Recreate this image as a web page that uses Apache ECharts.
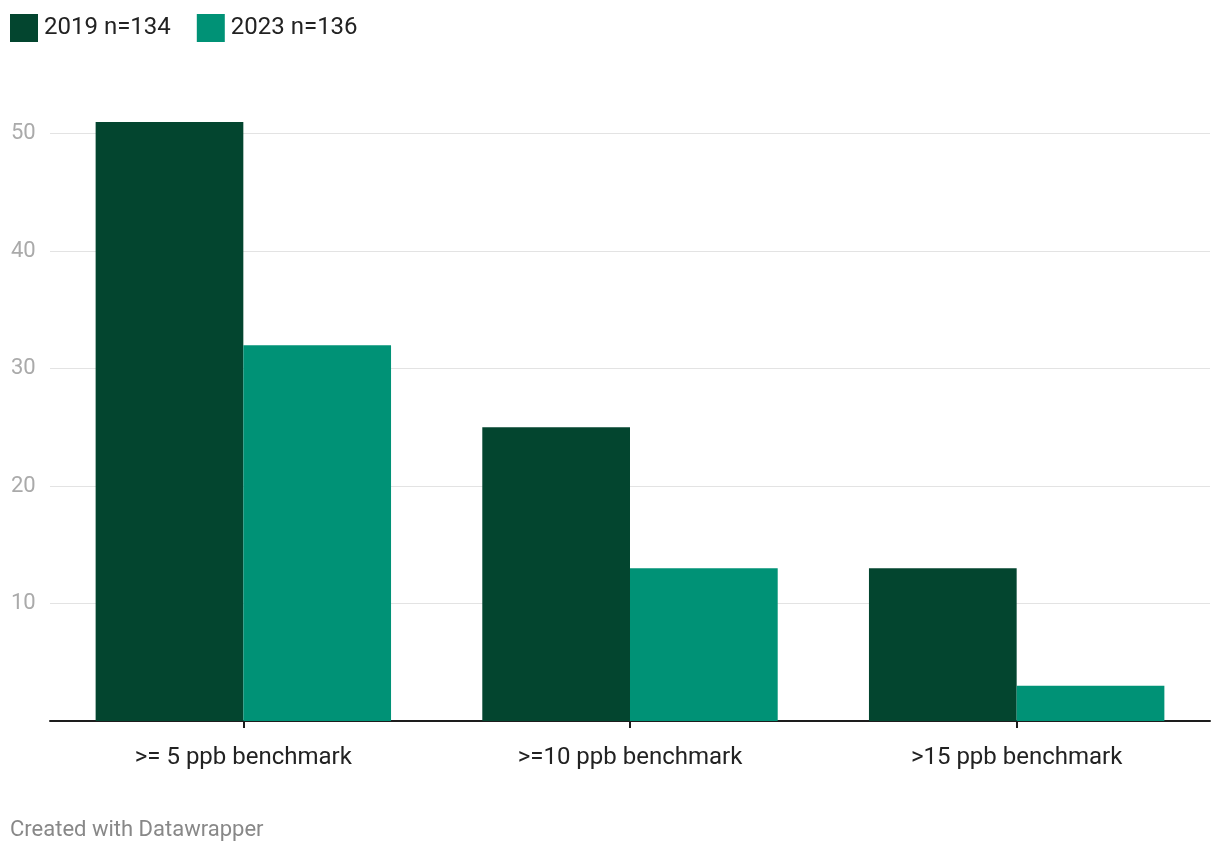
<!DOCTYPE html>
<html>
<head>
<meta charset="utf-8">
<script src="https://cdn.jsdelivr.net/npm/echarts@6/dist/echarts.min.js"></script>
<style>
  html, body { margin: 0; padding: 0; background: #fff; }
  #chart { width: 1220px; height: 854px; }
</style>
</head>
<body>
<div id="chart"></div>
<script>
var categories = [">= 5 ppb benchmark", ">=10 ppb benchmark", ">15 ppb benchmark"];
var seriesNames = ["2019 n=134", "2023 n=136"];
var values2019 = [51, 25, 13];
var values2023 = [32, 13, 3];

var myChart = echarts.init(document.getElementById("chart"));

var option = {
    animation: false,
    textStyle: { fontFamily: "Roboto" },
    title: {
        text: "Created with Datawrapper",
        left: 10,
        top: 819,
        padding: 0,
        textStyle: { color: "#888888", fontSize: 22, fontWeight: "normal", fontFamily: "Roboto" }
    },
    legend: {
        left: 10,
        top: 14,
        padding: 0,
        itemWidth: 28,
        itemHeight: 28,
        itemGap: 26,
        icon: "rect",
        textStyle: { color: "#222222", fontSize: 24, fontFamily: "Roboto", padding: [0, 0, 0, 1] },
        data: seriesNames
    },
    grid: {
        left: 50,
        right: 10,
        top: 75,
        bottom: 133,
        containLabel: false
    },
    xAxis: {
        type: "category",
        data: categories,
        axisLine: { lineStyle: { color: "#1d1d1d", width: 2 } },
        axisTick: { show: true, alignWithLabel: true, length: 7, lineStyle: { color: "#1d1d1d", width: 2 } },
        axisLabel: { color: "#222222", fontSize: 24, margin: 25, fontFamily: "Roboto" }
    },
    yAxis: {
        type: "value",
        min: 0,
        max: 55,
        interval: 10,
        axisLine: { show: false },
        axisTick: { show: false },
        axisLabel: {
            color: "#aaaaaa",
            fontSize: 22,
            align: "left",
            margin: 39,
            showMinLabel: false,
            showMaxLabel: false,
            fontFamily: "Roboto"
        },
        splitLine: {
            show: true,
            showMinLine: false,
            showMaxLine: false,
            lineStyle: { color: "#e3e3e3", width: 1 }
        }
    },
    series: [
        {
            name: seriesNames[0],
            type: "bar",
            data: values2019,
            barGap: "0%",
            barCategoryGap: "23.6%",
            itemStyle: { color: "#03452f" }
        },
        {
            name: seriesNames[1],
            type: "bar",
            data: values2023,
            itemStyle: { color: "#009276" }
        }
    ]
};

myChart.setOption(option);
</script>
</body>
</html>
